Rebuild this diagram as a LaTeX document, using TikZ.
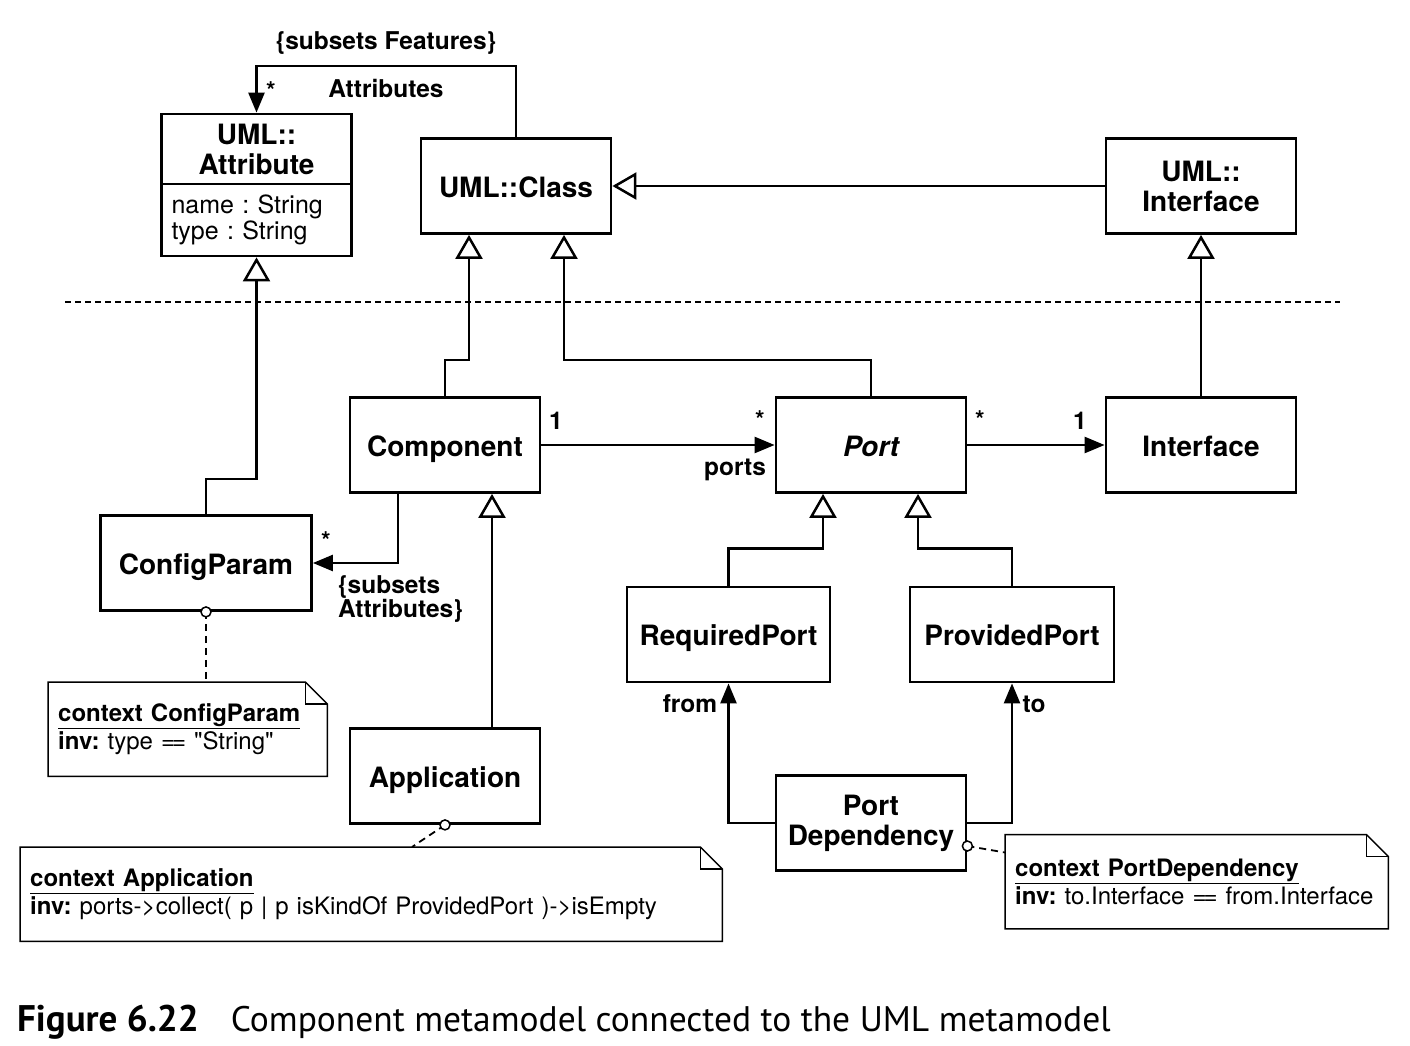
\documentclass[tikz,border=0pt]{standalone}
\usepackage{fontspec}
\setmainfont{TeX Gyre Heros}
\newfontfamily\capfont{PT Sans}
\usepackage{tikz}
\usetikzlibrary{arrows.meta, positioning}
\frenchspacing
\tikzstyle{classbox} = [rectangle, minimum width=190pt, minimum height=95pt, draw=black, line width=2.8pt, font=\bfseries\fontsize{28}{30}\selectfont, align=center]
\tikzstyle{oneline} = [text height=22pt, text depth=0pt]
\tikzstyle{attrbox} = [rectangle, minimum width=190pt, minimum height=72pt, draw=black, line width=2.8pt, text width=170pt, align=left, font=\fontsize{25}{26}\selectfont]
\tikzstyle{notebox} = [rectangle, minimum height=94pt, inner xsep=10pt, anchor=north west, align=left, font=\fontsize{24}{28}\selectfont]
\tikzstyle{noteline} = [line width=1.5pt]
\tikzstyle{notelink} = [line width=1.8pt, dash pattern=on 7pt off 5pt]
\tikzstyle{lbl} = [inner sep=0pt, anchor=base, font=\bfseries\fontsize{24.5}{24.5}\selectfont]
\tikzstyle{assoc} = [line width=2.5pt, -{Triangle[length=20pt,width=16pt]}]
\tikzstyle{gen} = [line width=2.5pt, -{Triangle[open,length=24pt,width=27pt,fill=white]}]
\newcommand{\eqeq}{=\kern-3pt=}

\begin{document}
\begin{tikzpicture}[x=1pt, y=-1pt]
\useasboundingbox (0,0) rectangle (1410,1046);

% UML metamodel
\node (attr) [classbox, minimum height=70pt] at (256.5,149) {UML::\\Attribute};
\node (attrs) [attrbox] at (256.5,220) {name : String\\type : String};
\node (umlclass) [classbox, oneline] at (516,186) {UML::Class};
\node (umlif) [classbox] at (1201,186) {UML::\\Interface};

\draw [line width=2.5pt, dash pattern=on 6pt off 4pt] (65,302) -- (1340,302);

% component metamodel
\node (comp) [classbox, oneline] at (445,445) {Component};
\node (port) [classbox, oneline] at (871,445) {\itshape Port};
\node (iface) [classbox, oneline] at (1201,445) {Interface};
\node (cp) [classbox, oneline, minimum width=211pt] at (206,563) {ConfigParam};
\node (req) [classbox, oneline, minimum width=203pt] at (728.5,634.5) {RequiredPort};
\node (prov) [classbox, oneline, minimum width=204pt] at (1012,634.5) {ProvidedPort};
\node (app) [classbox, oneline] at (445,776) {Application};
\node (pd) [classbox] at (871,823) {Port\\Dependency};

% constraints
\node (cpnote) [notebox, text width=259pt] at (48,682) {\textbf{\underline{context ConfigParam}}\\\textbf{inv:} type \eqeq{} \textquotedbl String\textquotedbl};
\node (appnote) [notebox, text width=682pt] at (20,847) {\textbf{\underline{context Application}}\\\textbf{inv:} ports->collect( p | p isKindOf ProvidedPort )->isEmpty};
\node (pdnote) [notebox, text width=363pt] at (1005,834.5) {\textbf{\underline{context PortDependency}}\\\mbox{\textbf{inv:} to.Interface \eqeq{} from.Interface}};
\foreach \n in {cpnote, appnote, pdnote} {
  \draw [noteline] (\n.north west) -- ([xshift=-22pt]\n.north east) -- ([yshift=-22pt]\n.north east) -- (\n.south east) -- (\n.south west) -- cycle;
  \draw [noteline] ([xshift=-22pt]\n.north east) |- ([yshift=-22pt]\n.north east);
}

% associations
\draw [assoc] (umlclass.north) -- ++(0,-71) -| (attr.north);
\node (featlbl) [lbl] at (386,50) {\{subsets Features\}};
\node (attrlbl) [lbl] at (386,98) {Attributes};
\node (attrmul) [lbl] at (271,100) {*};

\draw [assoc] (comp.east) -- (port.west);
\node (compone) [lbl] at (556,429) {1};
\node (portmul) [lbl] at (760,428) {*};
\node (portslbl) [lbl] at (735,475) {ports};

\draw [assoc] (port.east) -- (iface.west);
\node (ifmul) [lbl] at (980,428) {*};
\node (ifone) [lbl] at (1080,429) {1};

\draw [assoc] ([xshift=-47pt]comp.south) |- (cp.east);
\node (cpmul) [lbl] at (326,549) {*};
\node (cplbl) [lbl, anchor=base west] at (338,593) {\{subsets};
\node (cplbl2) [lbl, anchor=base west] at (338,617) {Attributes\}};

\draw [assoc] (pd.west) -| (req.south);
\node (fromlbl) [lbl] at (690,712) {from};
\draw [assoc] (pd.east) -| (prov.south);
\node (tolbl) [lbl] at (1034,712) {to};

% generalizations
\draw [gen] (umlif.west) -- (umlclass.east);
\draw [gen] (iface.north) -- (umlif.south);
\draw [gen] (comp.north) -- ++(0,-36) -| ([xshift=-47pt]umlclass.south);
\draw [gen] (port.north) -- ++(0,-36) -| ([xshift=48pt]umlclass.south);
\draw [gen] (cp.north) -- ++(0,-35) -| (attrs.south);
\draw [gen] ([xshift=47pt]app.north) -- ([xshift=47pt]comp.south);
\draw [gen] (req.north) -- ++(0,-37) -| ([xshift=-48pt]port.south);
\draw [gen] (prov.north) -- ++(0,-37) -| ([xshift=47pt]port.south);

% note links
\draw [notelink] (cp.south) -- (cp.south |- cpnote.north);
\draw [notelink] (app.south) -- ([xshift=392pt]appnote.north west);
\draw [notelink] ([yshift=-23pt]pd.east) -- ([yshift=-18pt]pdnote.north west);
\draw [line width=1.5pt, fill=white] (cp.south) circle (5pt);
\draw [line width=1.5pt, fill=white] (app.south) circle (5pt);
\draw [line width=1.5pt, fill=white] ([yshift=-23pt]pd.east) circle (5pt);

\node (caption) [anchor=base west, inner sep=0pt, font=\capfont\fontsize{35.5}{40}\selectfont] at (17,1031) {{\bfseries\fontsize{37}{40}\selectfont Figure 6.22}\hspace{32pt}Component metamodel connected to the UML metamodel};
\end{tikzpicture}
\end{document}
